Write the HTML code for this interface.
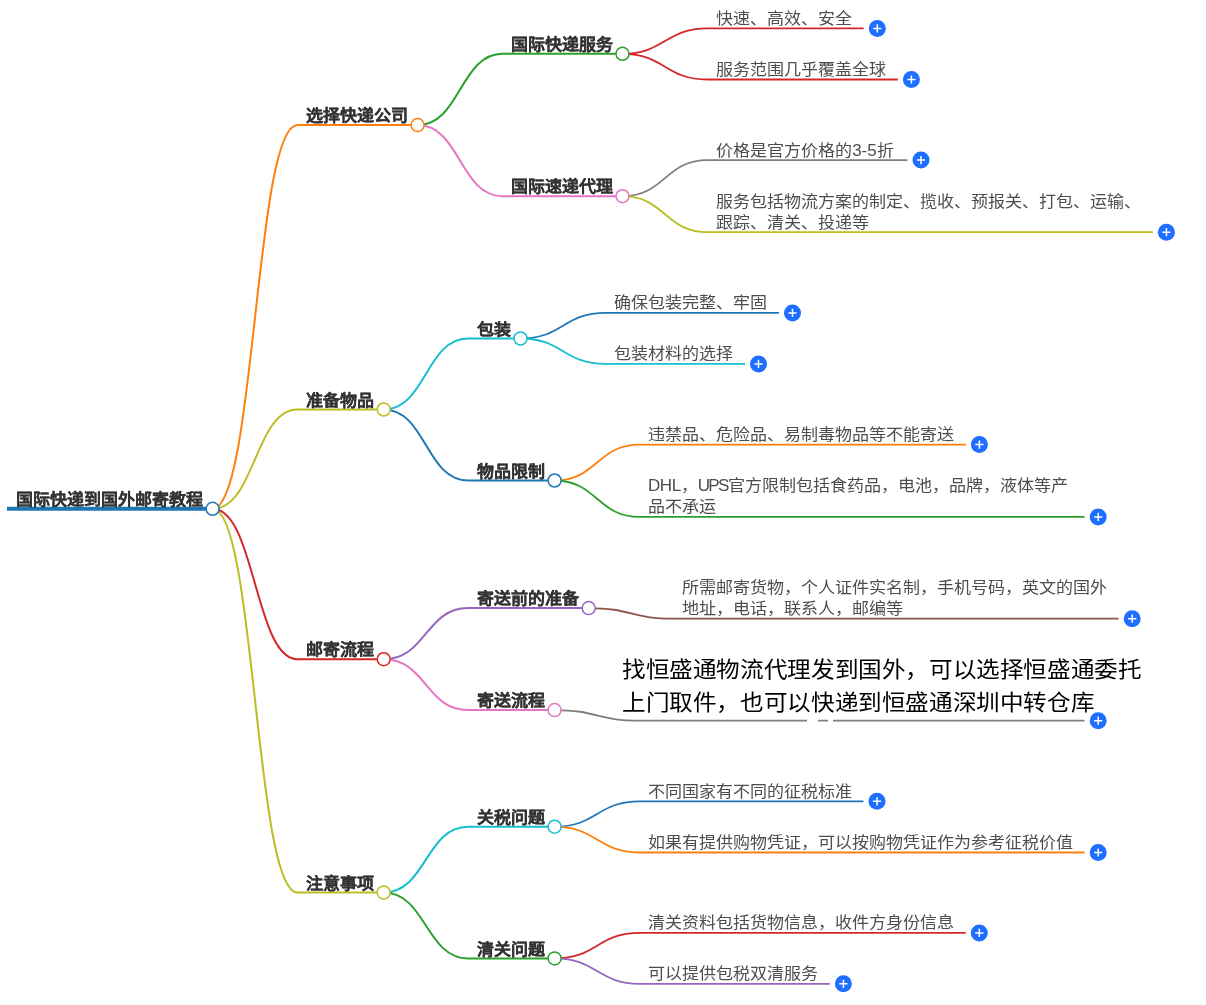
<!DOCTYPE html>
<html lang="zh-CN"><head><meta charset="utf-8"><style>
html,body{margin:0;padding:0;background:#fff;width:1206px;height:1005px;overflow:hidden;position:relative;font-family:"Liberation Sans",sans-serif}
svg{position:absolute;left:0;top:0}
.b,.l,.ov{will-change:transform}
.b,.l{position:absolute;white-space:nowrap;line-height:21px}
.b{font-size:16px;letter-spacing:0px;transform:scaleX(1.0625);transform-origin:0 0;font-weight:bold;color:#333;-webkit-text-stroke:0.15px #333}
.l{font-size:16px;letter-spacing:0px;transform:scaleX(1.0635);transform-origin:0 0;color:#4d4d4d}
.ov{position:absolute;color:#000;font-size:22px;letter-spacing:0px;transform:scaleX(1.0735);transform-origin:0 0;line-height:32px;white-space:nowrap}
.wb{position:absolute;background:#fff}
</style></head><body>
<svg width="1206" height="1005" viewBox="0 0 1206 1005">
<path d="M212.6,508.8C255.1,508.8 255.1,125.1 297.5,125.1H417.6" stroke="#ff7f0e" stroke-width="2" fill="none"/>
<path d="M212.6,508.8C255.1,508.8 255.1,409.5 297.5,409.5H383.7" stroke="#bcbd22" stroke-width="2" fill="none"/>
<path d="M212.6,508.8C255.1,508.8 255.1,659.2 297.5,659.2H383.7" stroke="#d62728" stroke-width="2" fill="none"/>
<path d="M212.6,508.8C255.1,508.8 255.1,892.6 297.5,892.6H383.7" stroke="#bcbd22" stroke-width="2" fill="none"/>
<path d="M417.6,125.1C460.1,125.1 460.1,53.8 502.5,53.8H622.5" stroke="#2ca02c" stroke-width="2" fill="none"/>
<path d="M417.6,125.1C460.1,125.1 460.1,196.2 502.5,196.2H622.5" stroke="#e377c2" stroke-width="2" fill="none"/>
<path d="M383.7,409.5C425.9,409.5 425.9,338.5 468.0,338.5H520.5" stroke="#17becf" stroke-width="2" fill="none"/>
<path d="M383.7,409.5C425.9,409.5 425.9,480.5 468.0,480.5H554.6" stroke="#1f77b4" stroke-width="2" fill="none"/>
<path d="M383.7,659.2C425.9,659.2 425.9,608.1 468.0,608.1H588.7" stroke="#9467bd" stroke-width="2" fill="none"/>
<path d="M383.7,659.2C425.9,659.2 425.9,710.1 468.0,710.1H554.6" stroke="#e377c2" stroke-width="2" fill="none"/>
<path d="M383.7,892.6C425.9,892.6 425.9,826.7 468.0,826.7H554.6" stroke="#17becf" stroke-width="2" fill="none"/>
<path d="M383.7,892.6C425.9,892.6 425.9,958.4 468.0,958.4H554.6" stroke="#2ca02c" stroke-width="2" fill="none"/>
<path d="M622.5,53.8C665.0,53.8 665.0,28.4 707.5,28.4H863.7" stroke="#d62728" stroke-width="1.8" fill="none"/>
<path d="M622.5,53.8C665.0,53.8 665.0,79.5 707.5,79.5H897.8" stroke="#d62728" stroke-width="1.8" fill="none"/>
<path d="M622.5,196.2C665.0,196.2 665.0,160.1 707.5,160.1H907.4" stroke="#7f7f7f" stroke-width="1.8" fill="none"/>
<path d="M622.5,196.2C665.0,196.2 665.0,232.2 707.5,232.2H1152.8" stroke="#bcbd22" stroke-width="1.8" fill="none"/>
<path d="M520.5,338.5C563.0,338.5 563.0,312.9 605.5,312.9H778.9" stroke="#1f77b4" stroke-width="1.8" fill="none"/>
<path d="M520.5,338.5C563.0,338.5 563.0,363.9 605.5,363.9H744.9" stroke="#17becf" stroke-width="1.8" fill="none"/>
<path d="M554.6,480.5C597.1,480.5 597.1,444.6 639.6,444.6H965.8" stroke="#ff7f0e" stroke-width="1.8" fill="none"/>
<path d="M554.6,480.5C597.1,480.5 597.1,516.9 639.6,516.9H1084.6" stroke="#2ca02c" stroke-width="1.8" fill="none"/>
<path d="M588.7,608.1C631.2,608.1 631.2,618.7 673.7,618.7H1118.6" stroke="#8c564b" stroke-width="1.8" fill="none"/>
<path d="M554.6,710.1C597.1,710.1 597.1,720.7 639.6,720.7H1084.6" stroke="#7f7f7f" stroke-width="1.8" fill="none"/>
<path d="M554.6,826.7C597.1,826.7 597.1,801.3 639.6,801.3H863.4" stroke="#1f77b4" stroke-width="1.8" fill="none"/>
<path d="M554.6,826.7C597.1,826.7 597.1,852.5 639.6,852.5H1084.6" stroke="#ff7f0e" stroke-width="1.8" fill="none"/>
<path d="M554.6,958.4C597.1,958.4 597.1,932.9 639.6,932.9H965.7" stroke="#d62728" stroke-width="1.8" fill="none"/>
<path d="M554.6,958.4C597.1,958.4 597.1,983.8 639.6,983.8H829.8" stroke="#9467bd" stroke-width="1.8" fill="none"/>
<path d="M7.0,508.8H212.6" stroke="#1f77b4" stroke-width="4" fill="none"/>
<circle cx="212.6" cy="508.8" r="6.5" stroke="#1f77b4" stroke-width="1.5" fill="#fff"/>
<circle cx="417.6" cy="125.1" r="6.5" stroke="#ff7f0e" stroke-width="1.5" fill="#fff"/>
<circle cx="383.7" cy="409.5" r="6.5" stroke="#bcbd22" stroke-width="1.5" fill="#fff"/>
<circle cx="383.7" cy="659.2" r="6.5" stroke="#d62728" stroke-width="1.5" fill="#fff"/>
<circle cx="383.7" cy="892.6" r="6.5" stroke="#bcbd22" stroke-width="1.5" fill="#fff"/>
<circle cx="622.5" cy="53.8" r="6.5" stroke="#2ca02c" stroke-width="1.5" fill="#fff"/>
<circle cx="622.5" cy="196.2" r="6.5" stroke="#e377c2" stroke-width="1.5" fill="#fff"/>
<circle cx="520.5" cy="338.5" r="6.5" stroke="#17becf" stroke-width="1.5" fill="#fff"/>
<circle cx="554.6" cy="480.5" r="6.5" stroke="#1f77b4" stroke-width="1.5" fill="#fff"/>
<circle cx="588.7" cy="608.1" r="6.5" stroke="#9467bd" stroke-width="1.5" fill="#fff"/>
<circle cx="554.6" cy="710.1" r="6.5" stroke="#e377c2" stroke-width="1.5" fill="#fff"/>
<circle cx="554.6" cy="826.7" r="6.5" stroke="#17becf" stroke-width="1.5" fill="#fff"/>
<circle cx="554.6" cy="958.4" r="6.5" stroke="#2ca02c" stroke-width="1.5" fill="#fff"/>
<circle cx="877.3" cy="28.4" r="8.5" fill="#1e6eff"/>
<path d="M873.20,28.40H881.40M877.30,24.30V32.50" stroke="#fff" stroke-width="1.5"/>
<circle cx="911.4" cy="79.5" r="8.5" fill="#1e6eff"/>
<path d="M907.30,79.50H915.50M911.40,75.40V83.60" stroke="#fff" stroke-width="1.5"/>
<circle cx="921.0" cy="160.1" r="8.5" fill="#1e6eff"/>
<path d="M916.90,160.10H925.10M921.00,156.00V164.20" stroke="#fff" stroke-width="1.5"/>
<circle cx="1166.4" cy="232.2" r="8.5" fill="#1e6eff"/>
<path d="M1162.30,232.20H1170.50M1166.40,228.10V236.30" stroke="#fff" stroke-width="1.5"/>
<circle cx="792.5" cy="312.9" r="8.5" fill="#1e6eff"/>
<path d="M788.40,312.90H796.60M792.50,308.80V317.00" stroke="#fff" stroke-width="1.5"/>
<circle cx="758.5" cy="363.9" r="8.5" fill="#1e6eff"/>
<path d="M754.40,363.90H762.60M758.50,359.80V368.00" stroke="#fff" stroke-width="1.5"/>
<circle cx="979.4" cy="444.6" r="8.5" fill="#1e6eff"/>
<path d="M975.30,444.60H983.50M979.40,440.50V448.70" stroke="#fff" stroke-width="1.5"/>
<circle cx="1098.2" cy="516.9" r="8.5" fill="#1e6eff"/>
<path d="M1094.10,516.90H1102.30M1098.20,512.80V521.00" stroke="#fff" stroke-width="1.5"/>
<circle cx="1132.2" cy="618.7" r="8.5" fill="#1e6eff"/>
<path d="M1128.10,618.70H1136.30M1132.20,614.60V622.80" stroke="#fff" stroke-width="1.5"/>
<circle cx="1098.2" cy="720.7" r="8.5" fill="#1e6eff"/>
<path d="M1094.10,720.70H1102.30M1098.20,716.60V724.80" stroke="#fff" stroke-width="1.5"/>
<circle cx="877.0" cy="801.3" r="8.5" fill="#1e6eff"/>
<path d="M872.90,801.30H881.10M877.00,797.20V805.40" stroke="#fff" stroke-width="1.5"/>
<circle cx="1098.2" cy="852.5" r="8.5" fill="#1e6eff"/>
<path d="M1094.10,852.50H1102.30M1098.20,848.40V856.60" stroke="#fff" stroke-width="1.5"/>
<circle cx="979.3" cy="932.9" r="8.5" fill="#1e6eff"/>
<path d="M975.20,932.90H983.40M979.30,928.80V937.00" stroke="#fff" stroke-width="1.5"/>
<circle cx="843.4" cy="983.8" r="8.5" fill="#1e6eff"/>
<path d="M839.30,983.80H847.50M843.40,979.70V987.90" stroke="#fff" stroke-width="1.5"/>
</svg>
<div class="b" style="left:16.2px;top:489.0px">国际快递到国外邮寄教程</div>
<div class="b" style="left:306.2px;top:105.3px">选择快递公司</div>
<div class="b" style="left:306.2px;top:389.7px">准备物品</div>
<div class="b" style="left:306.2px;top:639.4px">邮寄流程</div>
<div class="b" style="left:306.2px;top:872.8px">注意事项</div>
<div class="b" style="left:511.2px;top:34.0px">国际快递服务</div>
<div class="b" style="left:511.2px;top:176.4px">国际速递代理</div>
<div class="b" style="left:476.7px;top:318.7px">包装</div>
<div class="b" style="left:476.7px;top:460.7px">物品限制</div>
<div class="b" style="left:476.7px;top:588.3px">寄送前的准备</div>
<div class="b" style="left:476.7px;top:690.3px">寄送流程</div>
<div class="b" style="left:476.7px;top:806.9px">关税问题</div>
<div class="b" style="left:476.7px;top:938.6px">清关问题</div>
<div class="l" style="left:716.0px;top:7.9px">快速、高效、安全</div>
<div class="l" style="left:716.0px;top:59.0px">服务范围几乎覆盖全球</div>
<div class="l" style="left:716.0px;top:139.6px">价格是官方价格的3-5折</div>
<div class="l" style="left:716.0px;top:190.7px">服务包括物流方案的制定、揽收、预报关、打包、运输、<br>跟踪、清关、投递等</div>
<div class="l" style="left:614.0px;top:292.4px">确保包装完整、牢固</div>
<div class="l" style="left:614.0px;top:343.4px">包装材料的选择</div>
<div class="l" style="left:648.1px;top:424.1px">违禁品、危险品、易制毒物品等不能寄送</div>
<div class="l" style="left:648.1px;top:475.4px"><span style="letter-spacing:-0.4px">DHL</span>，<span style="letter-spacing:-1.6px">UPS</span>官方限制包括食药品，电池，品牌，液体等产<br>品不承运</div>
<div class="l" style="left:682.2px;top:577.2px">所需邮寄货物，个人证件实名制，手机号码，英文的国外<br>地址，电话，联系人，邮编等</div>
<div class="l" style="left:648.1px;top:780.8px">不同国家有不同的征税标准</div>
<div class="l" style="left:648.1px;top:832.0px">如果有提供购物凭证，可以按购物凭证作为参考征税价值</div>
<div class="l" style="left:648.1px;top:912.4px">清关资料包括货物信息，收件方身份信息</div>
<div class="l" style="left:648.1px;top:963.3px">可以提供包税双清服务</div>
<div class="wb" style="left:640px;top:650px;width:440px;height:67px"></div>
<div class="wb" style="left:807px;top:718px;width:10.5px;height:5px"></div>
<div class="wb" style="left:828px;top:718px;width:5px;height:5px"></div>
<div class="ov" style="left:622.3px;top:654px">找恒盛通物流代理发到国外，可以选择恒盛通委托</div>
<div class="ov" style="left:622.3px;top:687px;letter-spacing:0px">上门取件，也可以快递到恒盛通深圳中转仓库</div>
</body></html>
